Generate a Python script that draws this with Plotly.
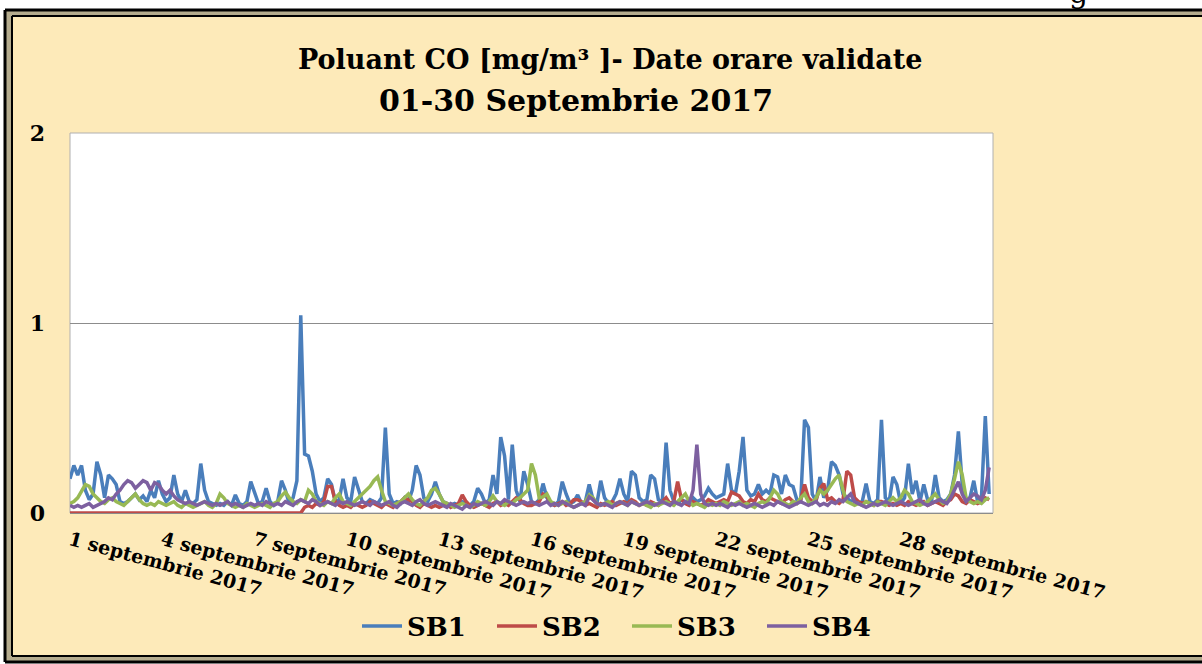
import plotly.graph_objects as go

# ---------------- data (3-hour resolution, 1-30 Sept 2017) ----------------
sb1 = [
    0.18, 0.25, 0.20, 0.25, 0.12, 0.07, 0.10, 0.27, 0.20, 0.08, 0.20, 0.18, 0.15, 0.06, 0.05, 0.06, 0.08, 0.10, 0.07, 0.09, 0.06, 0.12, 0.08, 0.17,
    0.10, 0.06, 0.08, 0.20, 0.10, 0.06, 0.12, 0.06, 0.05, 0.07, 0.26, 0.12, 0.06, 0.05, 0.04, 0.05, 0.04, 0.06, 0.04, 0.095, 0.05, 0.04, 0.06, 0.165,
    0.10, 0.05, 0.06, 0.13, 0.06, 0.04, 0.06, 0.17, 0.12, 0.05, 0.08, 0.17, 1.04, 0.31, 0.30, 0.22, 0.10, 0.06, 0.08, 0.18, 0.15, 0.06, 0.07, 0.18,
    0.08, 0.06, 0.19, 0.12, 0.06, 0.05, 0.07, 0.06, 0.05, 0.08, 0.45, 0.10, 0.05, 0.06, 0.05, 0.08, 0.06, 0.12, 0.25, 0.20, 0.08, 0.06, 0.10, 0.165,
    0.10, 0.06, 0.05, 0.04, 0.05, 0.04, 0.06, 0.05, 0.04, 0.06, 0.13, 0.10, 0.05, 0.07, 0.20, 0.10, 0.40, 0.30, 0.07, 0.36, 0.12, 0.06, 0.22, 0.15,
    0.06, 0.05, 0.07, 0.155, 0.08, 0.05, 0.04, 0.06, 0.165, 0.10, 0.05, 0.06, 0.095, 0.05, 0.06, 0.15, 0.07, 0.05, 0.17, 0.08, 0.05, 0.06, 0.10, 0.18,
    0.10, 0.06, 0.22, 0.20, 0.08, 0.06, 0.07, 0.20, 0.18, 0.07, 0.06, 0.37, 0.12, 0.06, 0.05, 0.07, 0.06, 0.05, 0.08, 0.06, 0.07, 0.09, 0.13, 0.10,
    0.08, 0.09, 0.10, 0.26, 0.12, 0.10, 0.22, 0.40, 0.12, 0.09, 0.10, 0.15, 0.10, 0.12, 0.10, 0.20, 0.19, 0.10, 0.20, 0.15, 0.14, 0.07, 0.06, 0.49,
    0.45, 0.10, 0.06, 0.19, 0.08, 0.12, 0.27, 0.25, 0.20, 0.10, 0.08, 0.06, 0.07, 0.05, 0.06, 0.155, 0.06, 0.05, 0.07, 0.49, 0.08, 0.06, 0.19, 0.15,
    0.05, 0.08, 0.26, 0.10, 0.17, 0.06, 0.15, 0.07, 0.06, 0.20, 0.08, 0.06, 0.07, 0.10, 0.20, 0.43, 0.15, 0.07, 0.08, 0.17, 0.06, 0.08, 0.51, 0.10,
]
sb2 = [
    0.0, 0.0, 0.0, 0.0, 0.0, 0.0, 0.0, 0.0, 0.0, 0.0, 0.0, 0.0, 0.0, 0.0, 0.0, 0.0, 0.0, 0.0, 0.0, 0.0, 0.0, 0.0, 0.0, 0.0,
    0.0, 0.0, 0.0, 0.0, 0.0, 0.0, 0.0, 0.0, 0.0, 0.0, 0.0, 0.0, 0.0, 0.0, 0.0, 0.0, 0.0, 0.0, 0.0, 0.0, 0.0, 0.0, 0.0, 0.0,
    0.0, 0.0, 0.0, 0.0, 0.0, 0.0, 0.0, 0.0, 0.0, 0.0, 0.0, 0.0, 0.0, 0.03, 0.04, 0.03, 0.05, 0.04, 0.06, 0.14, 0.14, 0.06, 0.04, 0.03,
    0.04, 0.03, 0.05, 0.04, 0.03, 0.04, 0.06, 0.05, 0.04, 0.03, 0.05, 0.04, 0.03, 0.05, 0.06, 0.08, 0.07, 0.06, 0.04, 0.03, 0.05, 0.04, 0.03, 0.04,
    0.03, 0.04, 0.05, 0.03, 0.04, 0.05, 0.095, 0.06, 0.04, 0.03, 0.04, 0.05, 0.04, 0.03, 0.05, 0.06, 0.04, 0.05, 0.04, 0.06, 0.08, 0.07, 0.05, 0.04,
    0.04, 0.05, 0.06, 0.10, 0.09, 0.05, 0.04, 0.05, 0.06, 0.04, 0.05, 0.07, 0.07, 0.06, 0.04, 0.05, 0.04, 0.03, 0.05, 0.04, 0.05, 0.06, 0.04, 0.05,
    0.06, 0.05, 0.07, 0.06, 0.04, 0.05, 0.04, 0.06, 0.05, 0.04, 0.06, 0.08, 0.05, 0.06, 0.165, 0.07, 0.05, 0.04, 0.06, 0.05, 0.04, 0.05, 0.07, 0.06,
    0.05, 0.06, 0.07, 0.06, 0.11, 0.10, 0.09, 0.06, 0.05, 0.07, 0.06, 0.10, 0.07, 0.06, 0.08, 0.07, 0.06, 0.05, 0.07, 0.08, 0.06, 0.05, 0.07, 0.15,
    0.08, 0.06, 0.07, 0.13, 0.155, 0.07, 0.08, 0.06, 0.05, 0.07, 0.22, 0.20, 0.08, 0.06, 0.05, 0.06, 0.05, 0.04, 0.06, 0.06, 0.05, 0.04, 0.05, 0.04,
    0.05, 0.04, 0.06, 0.05, 0.04, 0.05, 0.06, 0.04, 0.05, 0.06, 0.05, 0.04, 0.06, 0.07, 0.10, 0.09, 0.06, 0.05, 0.07, 0.06, 0.05, 0.06, 0.08, 0.07,
]
sb3 = [
    0.05, 0.06, 0.08, 0.12, 0.15, 0.14, 0.10, 0.08, 0.06, 0.05, 0.07, 0.08, 0.06, 0.05, 0.04, 0.06, 0.08, 0.10, 0.07, 0.05, 0.04, 0.05, 0.04, 0.06,
    0.05, 0.04, 0.05, 0.06, 0.04, 0.03, 0.05, 0.04, 0.03, 0.04, 0.05, 0.06, 0.04, 0.03, 0.05, 0.10, 0.08, 0.05, 0.04, 0.03, 0.04, 0.03, 0.05, 0.04,
    0.03, 0.04, 0.05, 0.04, 0.03, 0.05, 0.06, 0.09, 0.11, 0.08, 0.06, 0.05, 0.07, 0.06, 0.12, 0.10, 0.06, 0.05, 0.04, 0.06, 0.05, 0.08, 0.10, 0.06,
    0.05, 0.04, 0.06, 0.08, 0.10, 0.12, 0.14, 0.17, 0.19, 0.12, 0.06, 0.05, 0.04, 0.05, 0.06, 0.08, 0.10, 0.07, 0.05, 0.04, 0.06, 0.08, 0.12, 0.13,
    0.10, 0.06, 0.05, 0.04, 0.03, 0.04, 0.05, 0.04, 0.03, 0.04, 0.06, 0.05, 0.04, 0.06, 0.09, 0.06, 0.05, 0.04, 0.06, 0.05, 0.07, 0.08, 0.10, 0.12,
    0.26, 0.20, 0.08, 0.085, 0.10, 0.06, 0.05, 0.04, 0.05, 0.06, 0.04, 0.03, 0.04, 0.05, 0.06, 0.095, 0.08, 0.05, 0.04, 0.05, 0.06, 0.04, 0.05, 0.06,
    0.05, 0.04, 0.06, 0.05, 0.04, 0.05, 0.04, 0.03, 0.05, 0.04, 0.05, 0.06, 0.05, 0.04, 0.06, 0.08, 0.10, 0.06, 0.04, 0.05, 0.04, 0.03, 0.05, 0.04,
    0.05, 0.04, 0.06, 0.05, 0.04, 0.05, 0.06, 0.04, 0.05, 0.04, 0.03, 0.05, 0.06, 0.05, 0.08, 0.12, 0.10, 0.06, 0.05, 0.04, 0.06, 0.05, 0.08, 0.10,
    0.06, 0.05, 0.08, 0.12, 0.10, 0.12, 0.15, 0.18, 0.20, 0.12, 0.06, 0.05, 0.04, 0.05, 0.04, 0.06, 0.05, 0.04, 0.06, 0.05, 0.04, 0.06, 0.08, 0.06,
    0.08, 0.12, 0.10, 0.06, 0.05, 0.04, 0.05, 0.06, 0.08, 0.10, 0.07, 0.05, 0.06, 0.10, 0.18, 0.27, 0.20, 0.08, 0.06, 0.05, 0.06, 0.05, 0.07, 0.08,
]
sb4 = [
    0.04, 0.03, 0.04, 0.03, 0.04, 0.05, 0.03, 0.04, 0.05, 0.06, 0.08, 0.07, 0.10, 0.12, 0.15, 0.17, 0.16, 0.13, 0.15, 0.17, 0.16, 0.12, 0.16, 0.15,
    0.12, 0.10, 0.12, 0.09, 0.07, 0.06, 0.05, 0.06, 0.05, 0.04, 0.05, 0.06, 0.05, 0.04, 0.05, 0.04, 0.05, 0.06, 0.04, 0.05, 0.04, 0.03, 0.04, 0.05,
    0.04, 0.05, 0.04, 0.06, 0.05, 0.04, 0.05, 0.04, 0.06, 0.05, 0.04, 0.06, 0.07, 0.06, 0.05, 0.07, 0.06, 0.04, 0.05, 0.06, 0.05, 0.04, 0.06, 0.05,
    0.06, 0.05, 0.04, 0.05, 0.06, 0.05, 0.04, 0.06, 0.05, 0.04, 0.05, 0.06, 0.04, 0.03, 0.05, 0.06, 0.05, 0.04, 0.06, 0.07, 0.05, 0.04, 0.05, 0.06,
    0.05, 0.04, 0.03, 0.05, 0.04, 0.03, 0.02, 0.04, 0.03, 0.05, 0.04, 0.05, 0.06, 0.05, 0.04, 0.06, 0.05, 0.07, 0.06, 0.05, 0.04, 0.05, 0.06, 0.05,
    0.06, 0.05, 0.04, 0.05, 0.06, 0.04, 0.05, 0.04, 0.06, 0.05, 0.04, 0.03, 0.04, 0.05, 0.04, 0.085, 0.07, 0.05, 0.04, 0.05, 0.04, 0.03, 0.05, 0.06,
    0.05, 0.04, 0.06, 0.05, 0.04, 0.05, 0.06, 0.05, 0.04, 0.05, 0.06, 0.05, 0.04, 0.06, 0.05, 0.04, 0.06, 0.05, 0.12, 0.36, 0.10, 0.05, 0.04, 0.05,
    0.04, 0.05, 0.04, 0.03, 0.05, 0.04, 0.05, 0.04, 0.03, 0.04, 0.05, 0.04, 0.03, 0.04, 0.05, 0.04, 0.06, 0.05, 0.04, 0.03, 0.04, 0.05, 0.06, 0.05,
    0.04, 0.05, 0.06, 0.04, 0.05, 0.04, 0.06, 0.05, 0.07, 0.06, 0.08, 0.10, 0.06, 0.05, 0.04, 0.03, 0.04, 0.05, 0.04, 0.05, 0.06, 0.05, 0.04, 0.05,
    0.06, 0.05, 0.04, 0.05, 0.06, 0.07, 0.05, 0.04, 0.05, 0.06, 0.07, 0.06, 0.05, 0.08, 0.12, 0.165, 0.10, 0.06, 0.08, 0.10, 0.09, 0.07, 0.12, 0.24,
]
series_names = ["SB1", "SB2", "SB3", "SB4"]
series_colors = ["#4A7EBB", "#BE4B48", "#98B954", "#7D60A0"]
step_hours = 3
tick_days = [1, 4, 7, 10, 13, 16, 19, 22, 25, 28]
tick_labels = [f"{d} septembrie 2017" for d in tick_days]
y_ticks = [0, 1, 2]
title_line1 = "Poluant CO [mg/m³ ]- Date orare validate"
title_line2 = "01-30 Septembrie 2017"
corner_text = "g"

# ---------------- layout geometry (pixels) ----------------
W, H = 1202, 664
PL, PR, PT, PB = 70, 993, 133, 513  # plot area


def px(X):
    return (X - PL) / (PR - PL)


def py(Y):
    return (PB - Y) / (PB - PT)


FONT = "DejaVu Serif"
BEIGE = "#FDEAB9"

fig = go.Figure()
hours = [i * step_hours for i in range(len(sb1))]
for name, vals, col in zip(series_names, [sb1, sb2, sb3, sb4], series_colors):
    fig.add_trace(go.Scatter(x=hours, y=vals, mode="lines", name=name,
                             line=dict(color=col, width=3.5)))


def hline(Y, X0, X1, w):
    return dict(type="line", xref="paper", yref="paper", x0=px(X0), x1=px(X1), y0=py(Y), y1=py(Y),
                line=dict(color="black", width=w), layer="below")


def vline(X, Y0, Y1, w):
    return dict(type="line", xref="paper", yref="paper", x0=px(X), x1=px(X), y0=py(Y0), y1=py(Y1),
                line=dict(color="black", width=w), layer="below")


RIGHT = 1202
shapes = [
    # frame fills (open on the right: it runs past the picture edge)
    dict(type="rect", xref="paper", yref="paper", x0=px(5), x1=px(RIGHT), y0=py(662), y1=py(10),
         fillcolor="#B5AC8E", line=dict(width=0), layer="below"),
    dict(type="rect", xref="paper", yref="paper", x0=px(12), x1=px(RIGHT), y0=py(656), y1=py(16),
         fillcolor=BEIGE, line=dict(width=0), layer="below"),
    # double frame lines: top, left, bottom
    hline(10, 5, RIGHT, 3), hline(16, 12, RIGHT, 2),
    hline(662, 5, RIGHT, 3), hline(656, 12, RIGHT, 2),
    vline(5, 10, 662, 3), vline(12, 16, 656, 2),
    # white plot area
    dict(type="rect", xref="paper", yref="paper", x0=0, x1=1, y0=0, y1=1,
         fillcolor="white", line=dict(color="#B0B0B0", width=1), layer="below"),
]

annotations = [
    dict(text=title_line1, xref="paper", yref="paper", x=px(610), y=py(60), showarrow=False,
         xanchor="center", yanchor="middle", font=dict(family=FONT, size=27, color="black", weight="bold")),
    dict(text=title_line2, xref="paper", yref="paper", x=px(576), y=py(101), showarrow=False,
         xanchor="center", yanchor="middle", font=dict(family=FONT, size=30, color="black", weight="bold")),
    dict(text=corner_text, xref="paper", yref="paper", x=px(1078), y=py(-8), showarrow=False,
         xanchor="center", yanchor="middle", font=dict(family=FONT, size=30, color="black")),
]

fig.update_layout(
    width=W, height=H,
    margin=dict(l=PL, r=W - PR, t=PT, b=H - PB, pad=0),
    paper_bgcolor="white", plot_bgcolor="rgba(0,0,0,0)",
    shapes=shapes, annotations=annotations,
    showlegend=True,
    legend=dict(orientation="h", x=px(627), y=py(626), xanchor="center", yanchor="middle",
                font=dict(family=FONT, size=26, color="black", weight="bold"),
                bgcolor="rgba(0,0,0,0)", entrywidth=80, entrywidthmode="pixels",
                itemwidth=40),
)
fig.update_xaxes(range=[0, 720], tickvals=[(d - 1) * 24 for d in tick_days], ticktext=tick_labels,
                 tickangle=15, showgrid=False, showline=True, linecolor="#8C8C8C", linewidth=1,
                 zeroline=False, ticks="", ticklabelstandoff=8,
                 tickfont=dict(family=FONT, size=19, color="black", weight="bold"))
fig.update_yaxes(range=[0, 2], tickvals=y_ticks, showgrid=True, gridcolor="#8C8C8C", gridwidth=1,
                 zeroline=False, showline=False, ticks="", ticklabelstandoff=24,
                 tickfont=dict(family=FONT, size=22, color="black", weight="bold"))

fig.write_html("out.html", config={"displayModeBar": False},
               post_script="document.body.style.margin='0';")
